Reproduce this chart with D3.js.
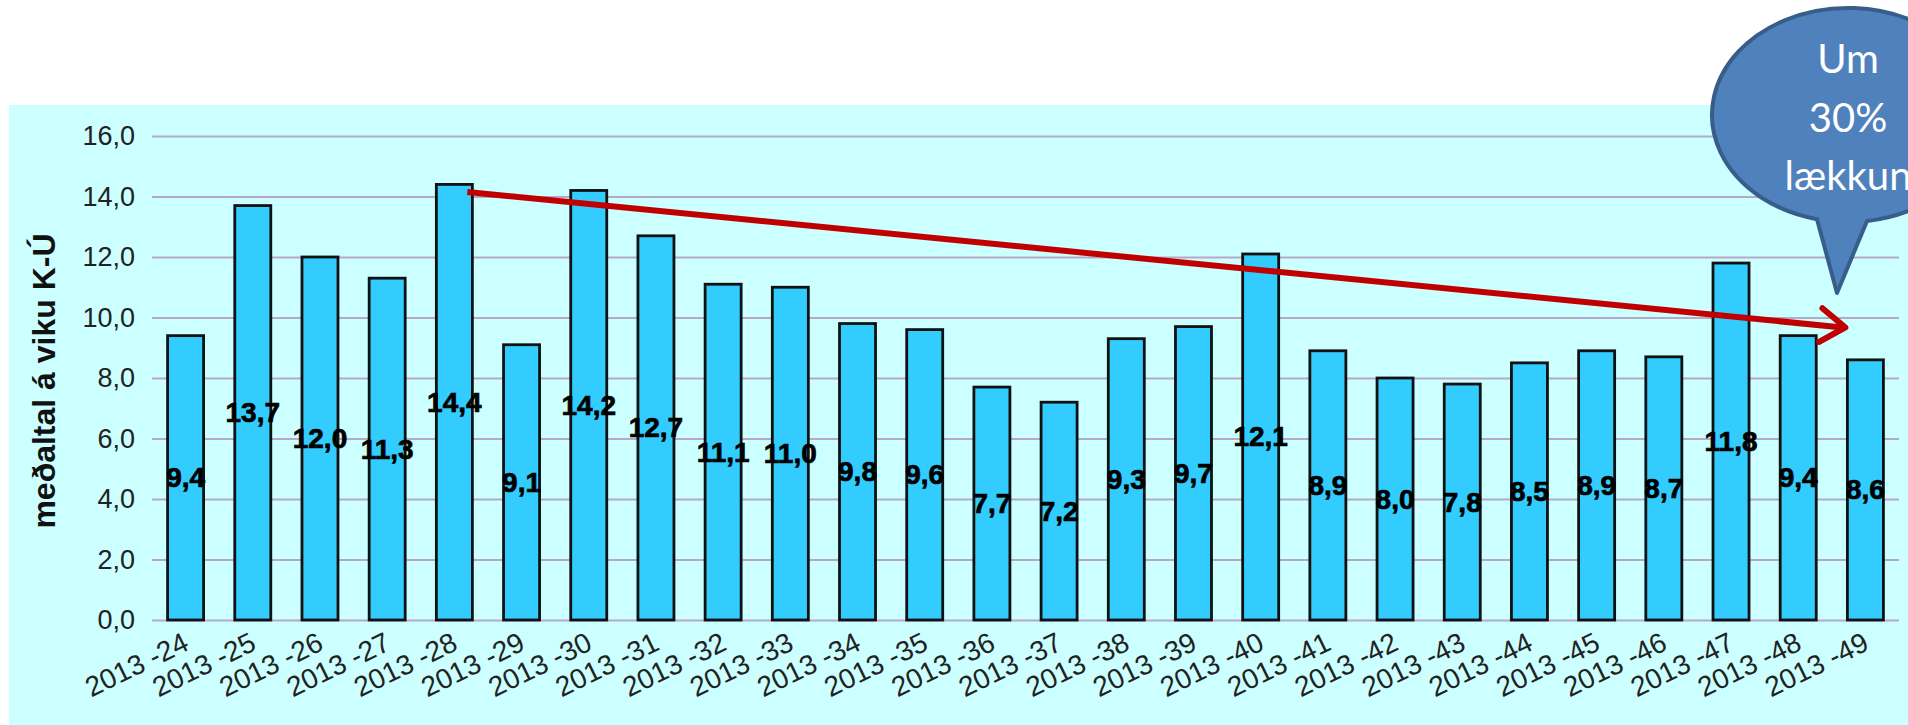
<!DOCTYPE html>
<html>
<head>
<meta charset="utf-8">
<script src="https://cdn.jsdelivr.net/npm/d3@7"></script>
<style>
body { margin: 0; background: #ffffff; }
svg text { font-family: "Liberation Sans", Arial, sans-serif; }
</style>
</head>
<body>
<div id="chart"></div>
<script>
var weeks = ["2013 -24","2013 -25","2013 -26","2013 -27","2013 -28","2013 -29","2013 -30",
	"2013 -31","2013 -32","2013 -33","2013 -34","2013 -35","2013 -36","2013 -37","2013 -38",
	"2013 -39","2013 -40","2013 -41","2013 -42","2013 -43","2013 -44","2013 -45","2013 -46",
	"2013 -47","2013 -48","2013 -49"];
var values = [9.4,13.7,12.0,11.3,14.4,9.1,14.2,12.7,11.1,11.0,9.8,9.6,7.7,7.2,9.3,9.7,12.1,
	8.9,8.0,7.8,8.5,8.9,8.7,11.8,9.4,8.6];
var yTicks = [0,2,4,6,8,10,12,14,16];
var yTitle = "meðaltal á viku K-Ú";
// red trend arrow, from top of week 28 to just before week 49
var trendWeeks = ["2013 -28","2013 -49"];
var trendValues = [14.15, 9.67];
var bubbleLines = ["Um","30%","lækkun"];

var width = 1908, height = 725;
var plot = {left:152, right:1899, top:136, bottom:620};

var svg = d3.select("#chart")
	.append("svg")
	.attr("width", width)
	.attr("height", height);

// cyan chart background
svg.append("rect")
	.attr("x", 9).attr("y", 105)
	.attr("width", width - 9).attr("height", height - 105)
	.attr("fill", "#ccffff");

var xScale = d3.scaleBand()
	.domain(weeks)
	.range([plot.left, plot.right])
	.paddingInner(0.464)
	.paddingOuter(0.232);

var yScale = d3.scaleLinear()
	.domain([0, 16])
	.range([plot.bottom, plot.top]);

// gridlines
var grid = svg.append("g")
	.attr("class", "grid")
	.attr("transform", "translate(" + plot.left + ",0)")
	.call(d3.axisLeft(yScale)
		.tickValues(yTicks)
		.tickSizeInner(-(plot.right - plot.left))
		.tickSizeOuter(0)
		.tickFormat(""));
grid.select(".domain").remove();
grid.selectAll("line").attr("stroke", "#b7a8c6").attr("stroke-width", 2);

// y axis labels
var yAxis = svg.append("g")
	.attr("class", "y-axis")
	.attr("transform", "translate(" + plot.left + ",0)")
	.call(d3.axisLeft(yScale)
		.tickValues(yTicks)
		.tickSize(0)
		.tickPadding(17)
		.tickFormat(function(d){ return d.toFixed(1).replace(".", ","); }));
yAxis.select(".domain").remove();
yAxis.selectAll("text")
	.attr("font-size", 27)
	.attr("fill", "#222");

// bars
svg.append("g")
	.selectAll("rect")
	.data(values)
	.join("rect")
	.attr("x", function(d,i){ return xScale(weeks[i]); })
	.attr("y", function(d){ return yScale(d); })
	.attr("width", xScale.bandwidth())
	.attr("height", function(d){ return yScale(0) - yScale(d); })
	.attr("fill", "#33ccff")
	.attr("stroke", "#111")
	.attr("stroke-width", 2.8);

// value labels in the middle of each bar
svg.append("g")
	.selectAll("text")
	.data(values)
	.join("text")
	.attr("x", function(d,i){ return xScale(weeks[i]) + xScale.bandwidth() / 2; })
	.attr("y", function(d){ return yScale(d / 2); })
	.attr("text-anchor", "middle")
	.attr("dominant-baseline", "central")
	.attr("font-size", 28)
	.attr("font-weight", "bold")
	.attr("fill", "#000")
	.attr("stroke", "#000")
	.attr("stroke-width", 0.7)
	.text(function(d){ return d.toFixed(1).replace(".", ","); });

// x axis labels
var xAxis = svg.append("g")
	.attr("class", "x-axis")
	.attr("transform", "translate(0," + plot.bottom + ")")
	.call(d3.axisBottom(xScale).tickSize(0).tickPadding(0));
xAxis.select(".domain").remove();
xAxis.selectAll("text")
	.attr("font-size", 28)
	.attr("fill", "#222")
	.attr("text-anchor", "end")
	.attr("dy", 0)
	.attr("y", 0)
	.attr("transform", "translate(5,29) rotate(-26)");

// y axis title
svg.append("text")
	.attr("transform", "translate(55," + yScale(7.9) + ") rotate(-90)")
	.attr("text-anchor", "middle")
	.attr("font-size", 32)
	.attr("font-weight", "bold")
	.attr("fill", "#111")
	.text(yTitle);

// trend arrow
var x0 = xScale(trendWeeks[0]) + xScale.bandwidth() * 0.86,
	y0 = yScale(trendValues[0]),
	x1 = xScale(trendWeeks[1]) - 2,
	y1 = yScale(trendValues[1]);
var ang = Math.atan2(y1 - y0, x1 - x0);
var headLen = 30, headAng = 0.6;
svg.append("line")
	.attr("x1", x0).attr("y1", y0)
	.attr("x2", x1 - 3).attr("y2", y1)
	.attr("stroke", "#c00000")
	.attr("stroke-width", 6);
svg.append("path")
	.attr("d", "M" + (x1 - headLen * Math.cos(ang - headAng)) + "," + (y1 - headLen * Math.sin(ang - headAng)) +
		"L" + x1 + "," + y1 +
		"L" + (x1 - headLen * Math.cos(ang + headAng)) + "," + (y1 - headLen * Math.sin(ang + headAng)))
	.attr("fill", "none")
	.attr("stroke", "#c00000")
	.attr("stroke-width", 6)
	.attr("stroke-linecap", "round")
	.attr("stroke-linejoin", "round");

// speech bubble
var bub = {cx:1848, cy:115, rx:136, ry:107, tailL:1817, tailR:1867, tipX:1837, tipY:293};
function ellY(x){ return bub.cy + bub.ry * Math.sqrt(1 - Math.pow((x - bub.cx) / bub.rx, 2)); }
svg.append("path")
	.attr("d", "M" + bub.tailL + "," + ellY(bub.tailL) +
		"A" + bub.rx + " " + bub.ry + " 0 1 1 " + bub.tailR + "," + ellY(bub.tailR) +
		"L" + bub.tipX + "," + bub.tipY + "Z")
	.attr("fill", "#4f81bd")
	.attr("stroke", "#385d8a")
	.attr("stroke-width", 4)
	.attr("stroke-linejoin", "round");

svg.append("g")
	.selectAll("text")
	.data(bubbleLines)
	.join("text")
	.attr("x", bub.cx)
	.attr("y", function(d,i){ return 73 + i * 58.5; })
	.attr("text-anchor", "middle")
	.attr("font-size", 40)
	.attr("fill", "#fff")
	.style("font-family", "Lato, 'Open Sans', sans-serif")
	.text(function(d){ return d; });
</script>
</body>
</html>
